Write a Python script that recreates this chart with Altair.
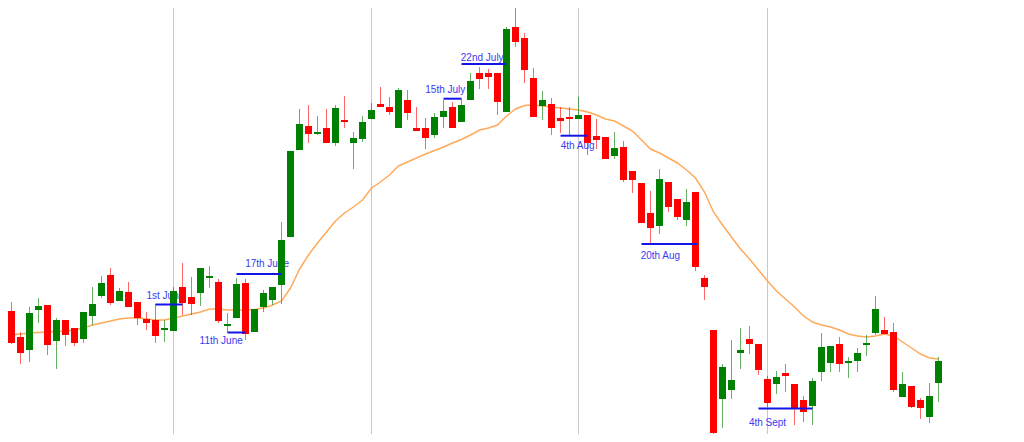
import altair as alt
import pandas as pd

# ---- candle data ----
opens = [143, 139, 113, 100, 140, 145, 109, 130, 122, 111, 134, 154, 175, 149, 158, 148, 131, 130, 120, 119,
         163, 153, 157, 172, 168, 124, 132, 167, 118, 143, 150, 165, 213, 300, 324, 316, 322, 307, 330, 307,
         311, 331, 346, 343, 322, 350, 322, 322, 315, 333, 343, 328, 350, 377, 377, 377, 338, 423, 412, 372,
         344, 346, 332, 333, 331, 335, 314, 313, 294, 303, 279, 267, 237, 224, 268, 251, 230, 258, 172, 120,
         51, 60, 97, 111, 106, 71, 66, 77, 66, 50, 44, 78, 87, 106, 87, 89, 105, 117, 120, 118,
         53, 64, 50, 33, 67]
highs = [157, 148, 118, 143, 152, 145, 132, 130, 122, 138, 163, 174, 182, 162, 168, 148, 138, 146, 130, 163,
         187, 173, 182, 184, 171, 137, 172, 171, 141, 160, 163, 228, 299, 341, 345, 334, 341, 345, 354, 318,
         334, 347, 363, 353, 362, 360, 343, 332, 337, 350, 348, 351, 377, 383, 381, 377, 423, 448, 417, 382,
         359, 352, 343, 343, 353, 335, 331, 313, 318, 309, 279, 267, 259, 281, 268, 251, 261, 258, 175, 120,
         86, 110, 122, 124, 106, 74, 79, 86, 66, 54, 72, 117, 104, 113, 93, 102, 115, 154, 133, 127,
         78, 64, 52, 67, 93]
lows = [129, 106, 86, 88, 127, 95, 81, 104, 104, 107, 125, 152, 145, 149, 143, 125, 120, 107, 108, 119,
        135, 135, 144, 162, 127, 117, 132, 110, 118, 138, 145, 146, 213, 300, 307, 315, 307, 304, 322, 281,
        308, 331, 343, 335, 322, 330, 319, 301, 312, 322, 322, 328, 350, 361, 361, 335, 338, 403, 367, 333,
        330, 315, 317, 314, 331, 295, 301, 291, 291, 268, 257, 227, 206, 216, 238, 230, 224, 179, 150, 13,
        22, 51, 81, 96, 75, 43, 56, 58, 25, 28, 25, 69, 78, 78, 72, 78, 94, 115, 116, 58,
        53, 42, 31, 27, 48]
closes = [139, 107, 97, 137, 144, 105, 130, 115, 107, 138, 146, 167, 147, 159, 143, 132, 127, 114, 122, 159,
          147, 146, 182, 174, 129, 126, 166, 116, 141, 157, 163, 210, 299, 326, 316, 318, 307, 342, 328, 312,
          328, 340, 343, 338, 360, 337, 319, 312, 333, 339, 322, 345, 369, 371, 373, 348, 421, 408, 380, 333,
          350, 322, 329, 331, 335, 307, 310, 291, 302, 270, 270, 227, 222, 271, 243, 233, 248, 183, 163, 17,
          83, 70, 100, 106, 80, 47, 73, 74, 42, 38, 69, 103, 104, 86, 89, 97, 107, 141, 116, 60,
          66, 43, 42, 54, 89]

# ---- moving average (orange line) ----
moving_avg = [114, 115, 116, 117, 117.5, 118, 118.5, 119, 120, 122, 125, 127, 129, 131, 132, 132, 131, 130, 130, 132,
              134, 136, 138, 141, 141, 140, 140, 140, 140.5, 142, 145, 149, 162, 181, 195, 207, 218, 229, 237, 243,
              250, 262, 268, 275, 284, 288, 292, 296, 299.5, 303, 307, 310.5, 315, 320, 322, 325, 334, 341, 344.5, 345,
              344, 343, 342, 341, 340, 338, 335, 331, 329, 324, 319, 310, 301, 297, 292, 287, 280, 272, 258, 238,
              225, 213, 201, 191, 180, 169, 159, 151, 143, 134, 128, 125, 123, 120, 116, 114, 113, 114, 116, 114,
              108, 102, 96, 92, 91]

# ---- month separators (candle index) ----
grid_idx = [19, 41, 64, 85]

# ---- annotations ----
ann_text = ["1st June", "11th June", "17th June", "15th July", "22nd July", "4th Aug", "20th Aug", "4th Sept"]
ann_start = [17, 25, 26, 49, 51, 62, 71, 84]
ann_end = [20, 27, 31, 51, 56, 65, 77.2, 90]
ann_level = [145.5, 117.5, 176, 351.3, 386, 314.3, 206, 41.5]
label_i = [18.1, 24.3, 29.4, 49.2, 53.3, 63.9, 73.1, 85]
label_p = [154, 109, 186, 360, 392.5, 304.5, 194, 27.5]

df = pd.DataFrame({"i": list(range(len(opens))), "open": opens, "high": highs,
                   "low": lows, "close": closes, "ma": moving_avg})
df["dir"] = ["up" if c >= o else "down" for o, c in zip(opens, closes)]

grid_df = pd.DataFrame({"g": grid_idx})
ann_df = pd.DataFrame({"s": ann_start, "e": ann_end, "lvl": ann_level})
lab_df = pd.DataFrame({"t": ann_text, "li": label_i, "lp": label_p})

W, H = 1008, 426
xs = alt.Scale(domain=[0.6111, 112.6111], nice=False, zero=False, padding=0)
ys = alt.Scale(domain=[16, 442], nice=False, zero=False, padding=0)
col = alt.Color("dir:N", scale=alt.Scale(domain=["up", "down"], range=["#008000", "#FF0000"]), legend=None)

grid = alt.Chart(grid_df).mark_rule(color="#C8C8C8", strokeWidth=1).encode(
    x=alt.X("g:Q", scale=xs, axis=None))

ma_line = alt.Chart(df).mark_line(color="#FFAA5A", strokeWidth=1.5).encode(
    x=alt.X("i:Q", scale=xs, axis=None), y=alt.Y("ma:Q", scale=ys, axis=None))

labels = alt.Chart(lab_df).mark_text(fontSize=10, font="Liberation Sans", color="#3A3AF2",
                                     align="center", baseline="middle").encode(
    x=alt.X("li:Q", scale=xs, axis=None), y=alt.Y("lp:Q", scale=ys, axis=None), text="t:N")

wicks = alt.Chart(df).mark_rule(strokeWidth=1, opacity=0.6).encode(
    x=alt.X("i:Q", scale=xs, axis=None),
    y=alt.Y("low:Q", scale=ys, axis=None), y2="high:Q", color=col)

bodies = alt.Chart(df).mark_bar(size=7).encode(
    x=alt.X("i:Q", scale=xs, axis=None),
    y=alt.Y("open:Q", scale=ys, axis=None), y2="close:Q", color=col)

ann_lines = alt.Chart(ann_df).mark_rule(color="#1414E6", strokeWidth=2).encode(
    x=alt.X("s:Q", scale=xs, axis=None), x2="e:Q",
    y=alt.Y("lvl:Q", scale=ys, axis=None))

chart = alt.layer(grid, ma_line, labels, wicks, bodies, ann_lines).properties(
    width=W, height=H, padding=0, background="white",
    autosize=alt.AutoSizeParams(type="none", contains="padding"),
).configure_view(strokeWidth=0)

chart.save("out.html", embed_options={"renderer": "svg", "actions": False})
